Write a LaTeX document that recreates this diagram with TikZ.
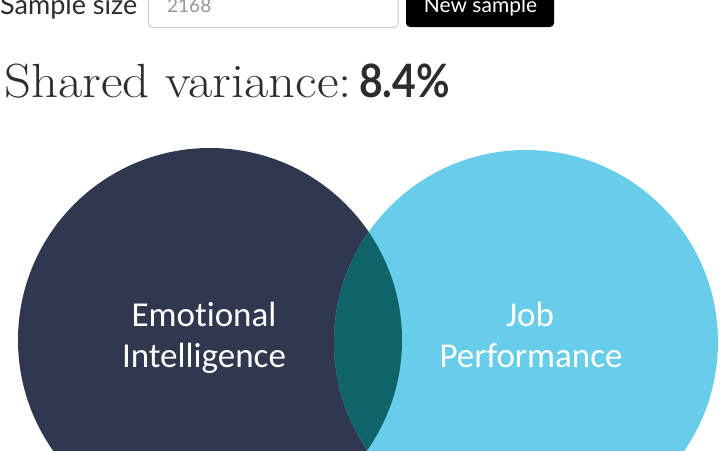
\documentclass[tikz,border=0pt]{standalone}
\usepackage{fontspec}
\newfontfamily\latof{Lato}
\newfontfamily\carf[Ligatures=CommonOff]{Carlito}
\definecolor{navy}{RGB}{47,56,79}
\definecolor{sky}{RGB}{104,205,233}
\definecolor{lens}{RGB}{14,100,104}
\definecolor{boxgrey}{RGB}{204,204,204}
\definecolor{txtgrey}{RGB}{150,150,150}
\definecolor{darktxt}{RGB}{45,45,45}
\tikzset{
  lbl/.style={text=white, font=\carf\fontsize{35}{35}\selectfont, anchor=base, inner sep=0pt},
  top/.style={anchor=base west, inner sep=0pt}
}
\begin{document}
\begin{tikzpicture}[x=1pt,y=-1pt]
\useasboundingbox (0,0) rectangle (720,450);
\clip (0,0) rectangle (720,450);
% circles
\fill[navy] (210,340) circle (192);
\fill[sky] (526,342) circle (192);
\begin{scope}
  \clip (210,340) circle (192);
  \fill[lens] (526,342) circle (192);
\end{scope}
% labels
\node[lbl] (ei1) at (204,326) {Emotional};
\node[lbl] (ei2) at (204,367) {Intelligence};
\node[lbl] (jp1) at (530,326) {Job};
\node[lbl] (jp2) at (531,367) {Performance};
% top row
\node[top, text=darktxt, font=\latof\fontsize{27}{27}\selectfont] (ss) at (0,14) {Sample size};
\draw[boxgrey, line width=1pt, rounded corners=4pt] (148.5,-10) rectangle (398,27.5);
\node[top, text=txtgrey, font=\latof\fontsize{19}{19}\selectfont] (val) at (167,12.5) {2168};
\fill[black, rounded corners=4pt] (406,-10) rectangle (554,27);
\node[anchor=base, inner sep=0pt, text=white, font=\latof\fontsize{21}{21}\selectfont] (btn) at (480.5,12) {New sample};
% shared variance
\node[top, text=darktxt, font=\fontsize{48}{48}\selectfont] (sv) at (4,97) {\scalebox{1.1}[1]{Shared variance:}};
\node[top, text=darktxt, font=\latof\bfseries\fontsize{46}{46}\selectfont] (pct) at (359,97.5) {\scalebox{0.89}[1]{8.4\%}};
\end{tikzpicture}
\end{document}
